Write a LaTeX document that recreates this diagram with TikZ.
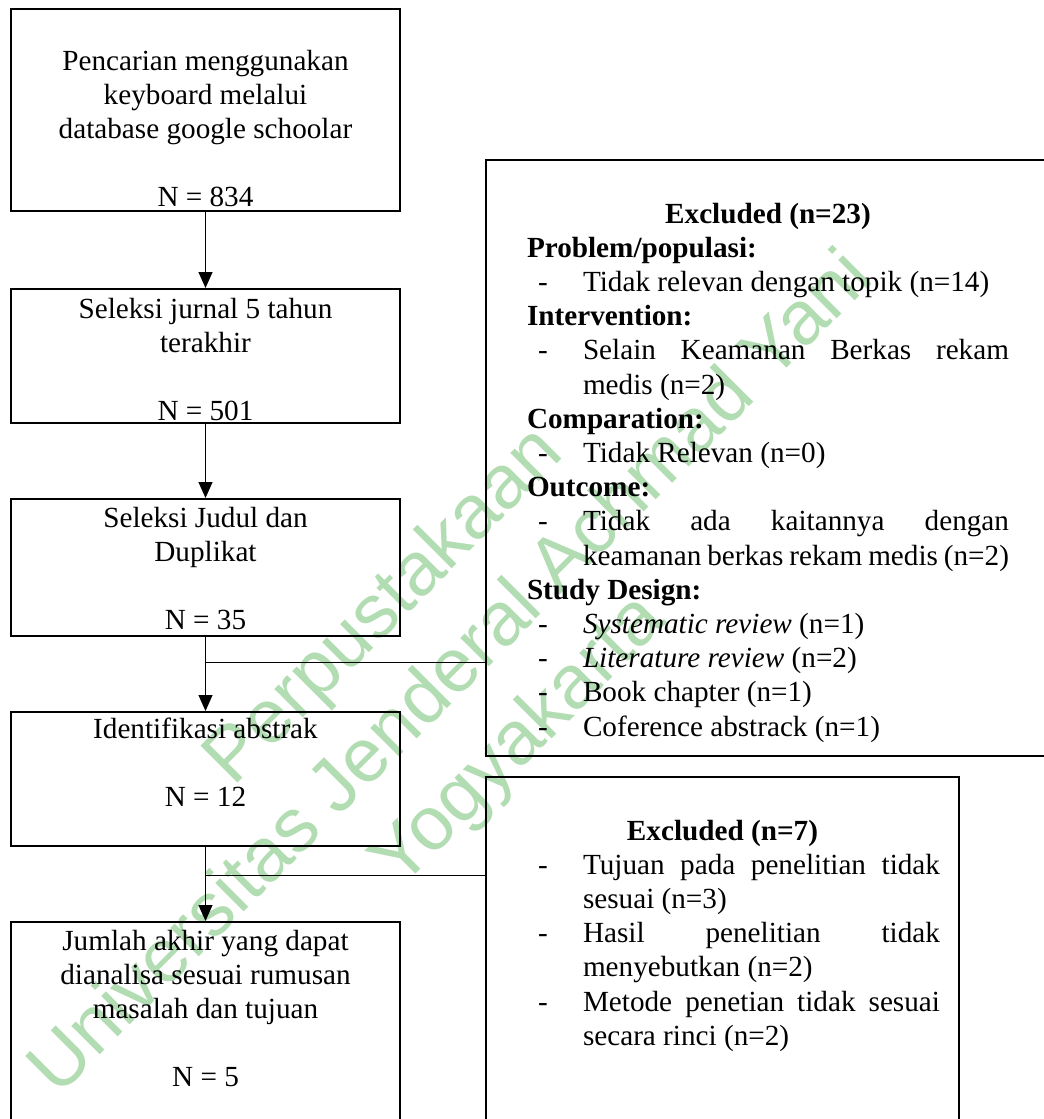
\documentclass[tikz,border=0pt]{standalone}
\usepackage{fontspec}
\setmainfont{Liberation Serif}
\newfontfamily\wmfont{Liberation Sans}
\usepackage{tikz}
\usetikzlibrary{arrows.meta,calc,positioning}
\definecolor{wmgreen}{RGB}{178,220,178}
\hyphenpenalty=10000
\tolerance=10000

\newcommand{\flowtext}[3]{\parbox[c][#1][t]{194.5pt}{\centering\rule{0pt}{#2}#3}}
\newcommand{\exhead}[1]{\par\noindent\textbf{#1}\par}
\newcommand{\exitem}[1]{\par\hangindent=28pt\hangafter=1\noindent\makebox[28pt][l]{\hspace{5.5pt}-}#1\par}

\begin{document}
\begin{tikzpicture}[
    x=0.5pt, y=-0.5pt,
    flowbox/.style={rectangle, draw, line width=1pt, inner sep=0pt, font=\fontsize{14.6}{17}\selectfont},
    exbox/.style={rectangle, draw, line width=1pt, inner sep=0pt, font=\fontsize{14.6}{17.1}\selectfont},
    arrow/.style={-{Triangle[length=8pt,width=7pt]}, line width=0.5pt},
    exline/.style={line width=0.5pt},
    wmark/.style={text=wmgreen, align=center, rotate=45, font=\wmfont\fontsize{38}{47.5}\selectfont}
]
    \useasboundingbox (0,0) rectangle (1044,1119);
    \clip (0,0) rectangle (1044,1119);

    \node[wmark] (wm) at (453,675) {Perpustakaan\\Universitas Jenderal Achmad Yani\\Yogyakarta};

    \node[flowbox] (b1) at (205.5,110) {\flowtext{101pt}{30.5pt}{Pencarian menggunakan\\keyboard melalui\\database google schoolar\\[17pt]N = 834}};
    \node[flowbox] (b2) at (205.5,356) {\flowtext{67pt}{14.5pt}{Seleksi jurnal 5 tahun\\terakhir\\[17pt]N = 501}};
    \node[flowbox] (b3) at (205.5,567.5) {\flowtext{68.5pt}{14pt}{Seleksi Judul dan\\Duplikat\\[17pt]N = 35}};
    \node[flowbox] (b4) at (205.5,779) {\flowtext{67pt}{13pt}{Identifikasi abstrak\\[17pt]N = 12}};
    \node[flowbox] (b5) at (205.5,1031) {\flowtext{109pt}{14pt}{Jumlah akhir yang dapat\\dianalisa sesuai rumusan\\masalah dan tujuan\\[17pt]N = 5}};

    \node[exbox] (ex1) at (768,458) {\kern20.5pt\parbox[c][298pt][t]{241pt}{%
        {\centering\rule{0pt}{31.5pt}\textbf{Excluded (n=23)}\par}
        \exhead{Problem/populasi:}
        \exitem{Tidak relevan dengan topik (n=14)}
        \exhead{Intervention:}
        \exitem{Selain Keamanan Berkas rekam\linebreak medis (n=2)}
        \exhead{Comparation:}
        \exitem{Tidak Relevan (n=0)}
        \exhead{Outcome:}
        \exitem{Tidak ada kaitannya dengan\linebreak\makebox[213pt][s]{\spaceskip=0.15em plus 0.2em minus 0.1em keamanan berkas rekam medis (n=2)}}
        \exhead{Study Design:}
        \exitem{\textit{Systematic review} (n=1)}
        \exitem{\textit{Literature review} (n=2)}
        \exitem{Book chapter (n=1)}
        \exitem{Coference abstrack (n=1)}}\kern20.5pt};

    \node[exbox] (ex2) at (722.5,958.5) {\kern20.5pt\parbox[c][181.5pt][t]{206.5pt}{%
        {\centering\hspace*{-11pt}\rule{0pt}{31.5pt}\textbf{Excluded (n=7)}\par}
        \exitem{Tujuan pada penelitian tidak\linebreak sesuai (n=3)}
        \exitem{Hasil penelitian tidak\linebreak menyebutkan (n=2)}
        \exitem{Metode penetian tidak sesuai\linebreak secara rinci (n=2)}}\kern9.5pt};

    \draw[arrow] (b1) -- (b2);
    \draw[arrow] (b2) -- (b3);
    \draw[arrow] (b3) -- (b4);
    \draw[arrow] (b4) -- (b5);

    \coordinate (j1) at ($(b3.south)!0.34!(b4.north)$);
    \coordinate (j2) at ($(b4.south)!0.38!(b5.north)$);
    \draw[exline] (j1) -- (j1 -| ex1.west);
    \draw[exline] (j2) -- (j2 -| ex2.west);
\end{tikzpicture}
\end{document}
